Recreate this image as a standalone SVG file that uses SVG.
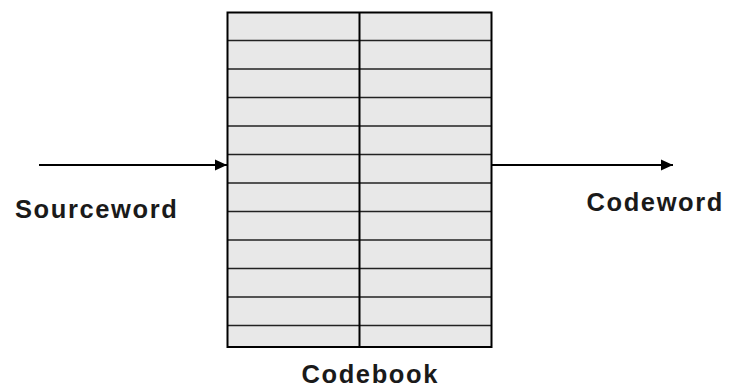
<svg xmlns="http://www.w3.org/2000/svg" width="731" height="392" viewBox="0 0 731 392">
<style>
.lbl{font-family:"Liberation Sans",Arial,sans-serif;font-size:25.5px;font-weight:bold;letter-spacing:1.6px;fill:#1a1a1a}
.row{stroke:#222;stroke-width:1.5}
.conn{stroke:#000;stroke-width:2;fill:none}
</style>
<defs>
<marker id="ah" markerWidth="12" markerHeight="12" refX="12" refY="6" orient="auto" markerUnits="userSpaceOnUse">
<path d="M0,0.5 L12,6 L0,11.5 Z" fill="#000"/>
</marker>
</defs>
<rect width="731" height="392" fill="#fff"/>
<g id="codebook">
<rect x="227.5" y="12.5" width="264" height="334.5" fill="#e8e8e8" stroke="none"/>
<g class="row">
<line x1="227.5" y1="40.5" x2="491.5" y2="40.5"/>
<line x1="227.5" y1="69" x2="491.5" y2="69"/>
<line x1="227.5" y1="97.5" x2="491.5" y2="97.5"/>
<line x1="227.5" y1="126" x2="491.5" y2="126"/>
<line x1="227.5" y1="154.5" x2="491.5" y2="154.5"/>
<line x1="227.5" y1="183" x2="491.5" y2="183"/>
<line x1="227.5" y1="211.5" x2="491.5" y2="211.5"/>
<line x1="227.5" y1="240" x2="491.5" y2="240"/>
<line x1="227.5" y1="268.5" x2="491.5" y2="268.5"/>
<line x1="227.5" y1="297" x2="491.5" y2="297"/>
<line x1="227.5" y1="325.5" x2="491.5" y2="325.5"/>
</g>
<line x1="359.5" y1="12.5" x2="359.5" y2="347" stroke="#000" stroke-width="2"/>
<rect x="227.5" y="12.5" width="264" height="334.5" fill="none" stroke="#000" stroke-width="2"/>
</g>
<g id="connectors">
<line class="conn" x1="39" y1="165" x2="227" y2="165" marker-end="url(#ah)"/>
<line class="conn" x1="492" y1="165" x2="673" y2="165" marker-end="url(#ah)"/>
</g>
<g id="sourceword"><text class="lbl" x="15" y="217.5">Sourceword</text></g>
<g id="codeword"><text class="lbl" x="586.5" y="210.5">Codeword</text></g>
<g id="codebook-label"><text class="lbl" x="301.5" y="383">Codebook</text></g>
</svg>
